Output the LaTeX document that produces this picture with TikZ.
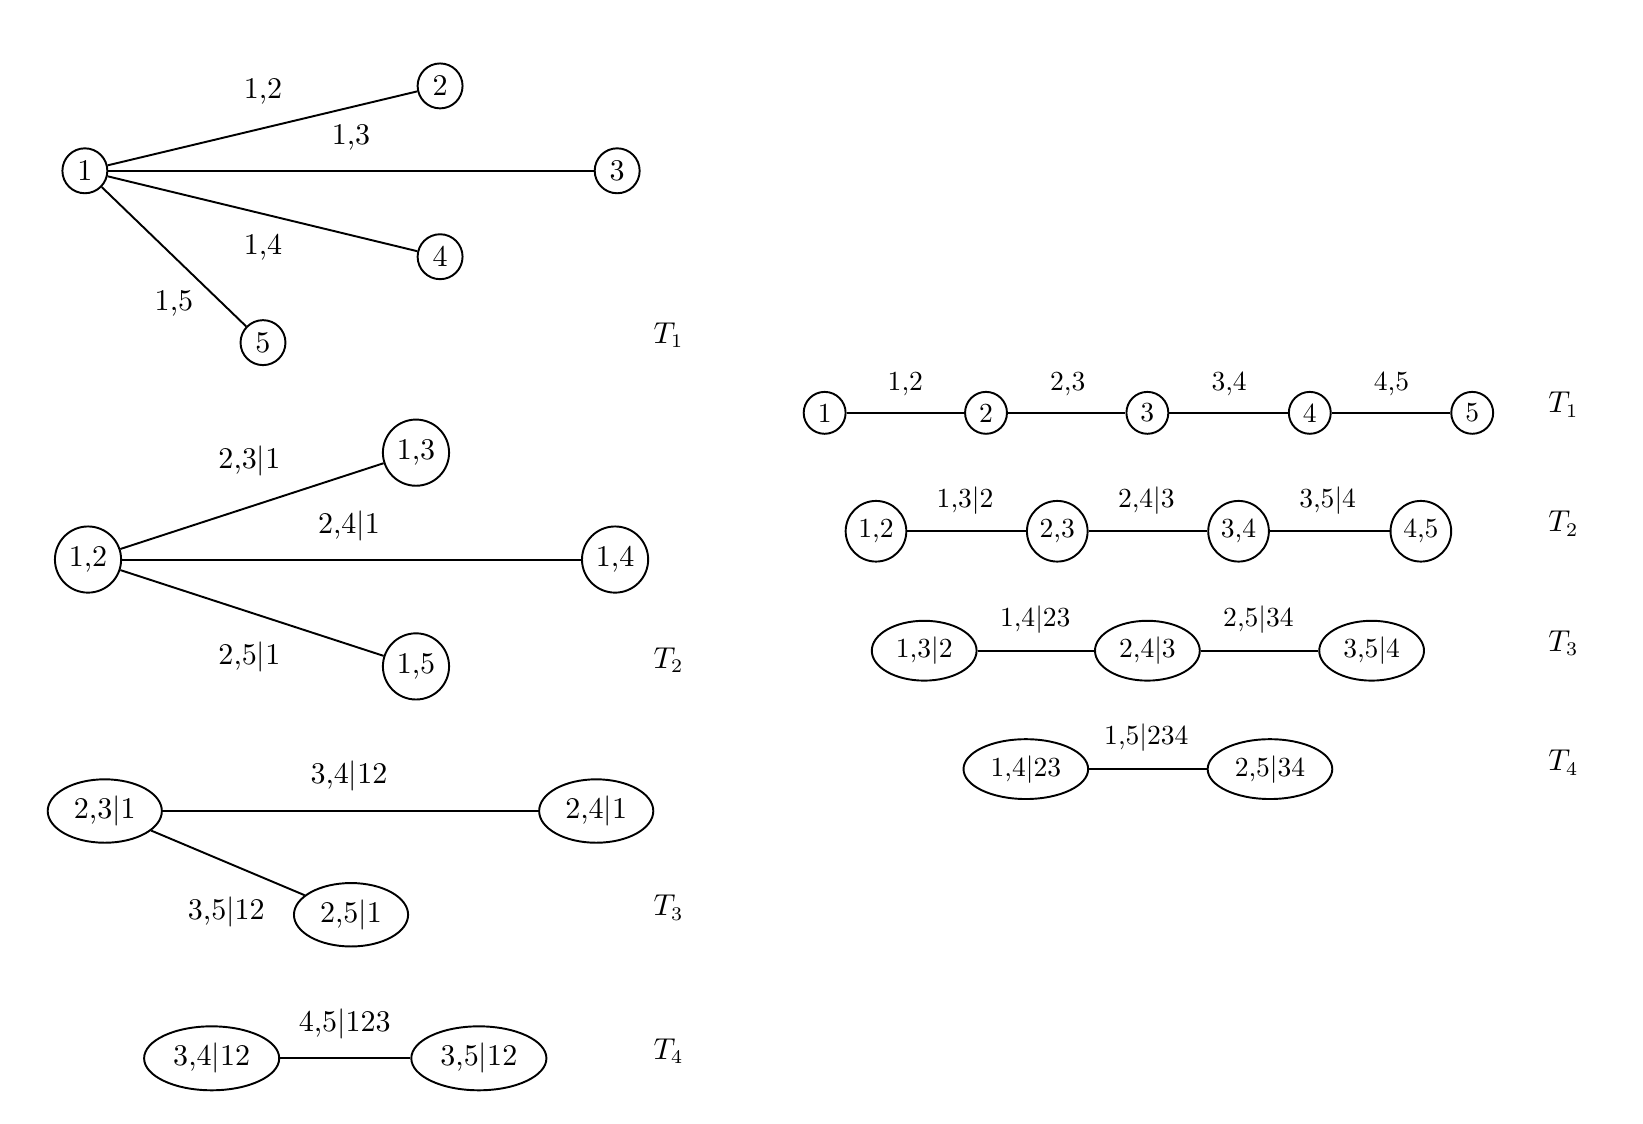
\documentclass[tikz,border=0pt]{standalone}
\usetikzlibrary{shapes.geometric}
\begin{document}
\begin{tikzpicture}[x=0.38pt,y=-0.38pt,line width=0.7pt,
  lf/.style={font=\fontsize{10.9}{13}\selectfont},
  rf/.style={font=\fontsize{10}{12}\selectfont},
  lcs/.style={draw,circle,inner sep=0pt,minimum size=16.3pt,lf},
  lcb/.style={draw,circle,inner sep=0pt,minimum size=24pt,lf},
  lea/.style={draw,ellipse,inner sep=0pt,minimum width=41.4pt,minimum height=23pt,lf},
  leb/.style={draw,ellipse,inner sep=0pt,minimum width=49pt,minimum height=23.2pt,lf},
  rcs/.style={draw,circle,inner sep=0pt,minimum size=15.2pt,rf},
  rcb/.style={draw,circle,inner sep=0pt,minimum size=22pt,rf},
  rea/.style={draw,ellipse,inner sep=0pt,minimum width=38pt,minimum height=21.7pt,rf},
  reb/.style={draw,ellipse,inner sep=0pt,minimum width=45.2pt,minimum height=21.7pt,rf},
  ll/.style={inner sep=0pt,lf},
  rl/.style={inner sep=0pt,rf},
  tl/.style={inner sep=0pt,font=\fontsize{10.5}{12}\selectfont}]
\useasboundingbox (0,0) rectangle (1568,1072);
% ---------- left T1
\node[lcs] (a1) at (81,163) {1};
\node[lcs] (a2) at (420,82) {2};
\node[lcs] (a3) at (589,163) {3};
\node[lcs] (a4) at (420,245) {4};
\node[lcs] (a5) at (251,327) {5};
\draw (a1) -- (a2); \draw (a1) -- (a3); \draw (a1) -- (a4); \draw (a1) -- (a5);
\node[ll] (la12) at (251,87) {1,2};
\node[ll] (la13) at (335,131) {1,3};
\node[ll] (la14) at (251,236) {1,4};
\node[ll] (la15) at (166,290) {1,5};
\node[tl] (ta1) at (638,320) {$T_1$};
% ---------- left T2
\node[lcb] (b12) at (84,534) {1,2};
\node[lcb] (b13) at (397,432) {1,3};
\node[lcb] (b14) at (587,534) {1,4};
\node[lcb] (b15) at (397,636) {1,5};
\draw (b12) -- (b13); \draw (b12) -- (b14); \draw (b12) -- (b15);
\node[ll] (lb23) at (238,440) {2,3$|$1};
\node[ll] (lb24) at (333,502) {2,4$|$1};
\node[ll] (lb25) at (238,627) {2,5$|$1};
\node[tl] (tb2) at (638,630) {$T_2$};
% ---------- left T3
\node[lea] (c23) at (100,774) {2,3$|$1};
\node[lea] (c24) at (569,774) {2,4$|$1};
\node[lea] (c25) at (335,873) {2,5$|$1};
\draw (c23) -- (c24); \draw (c23) -- (c25);
\node[ll] (lc34) at (333,741) {3,4$|$12};
\node[ll] (lc35) at (216,870) {3,5$|$12};
\node[tl] (tc3) at (638,866) {$T_3$};
% ---------- left T4
\node[leb] (d34) at (202,1010) {3,4$|$12};
\node[leb] (d35) at (457,1010) {3,5$|$12};
\draw (d34) -- (d35);
\node[ll] (ld45) at (329,977) {4,5$|$123};
\node[tl] (td4) at (638,1003) {$T_4$};
% ---------- right T1
\node[rcs] (e1) at (787,394) {1};
\node[rcs] (e2) at (941,394) {2};
\node[rcs] (e3) at (1095,394) {3};
\node[rcs] (e4) at (1250,394) {4};
\node[rcs] (e5) at (1405,394) {5};
\draw (e1) -- (e2); \draw (e2) -- (e3); \draw (e3) -- (e4); \draw (e4) -- (e5);
\node[rl] (le12) at (864,366) {1,2};
\node[rl] (le23) at (1019,366) {2,3};
\node[rl] (le34) at (1173,366) {3,4};
\node[rl] (le45) at (1328,366) {4,5};
\node[tl] (te1) at (1492,386) {$T_1$};
% ---------- right T2
\node[rcb] (f12) at (836,507) {1,2};
\node[rcb] (f23) at (1009,507) {2,3};
\node[rcb] (f34) at (1182,507) {3,4};
\node[rcb] (f45) at (1356,507) {4,5};
\draw (f12) -- (f23); \draw (f23) -- (f34); \draw (f34) -- (f45);
\node[rl] (lf13) at (921,478) {1,3$|$2};
\node[rl] (lf24) at (1094,478) {2,4$|$3};
\node[rl] (lf35) at (1267,478) {3,5$|$4};
\node[tl] (tf2) at (1492,500) {$T_2$};
% ---------- right T3
\node[rea] (g13) at (882,621) {1,3$|$2};
\node[rea] (g24) at (1095,621) {2,4$|$3};
\node[rea] (g35) at (1309,621) {3,5$|$4};
\draw (g13) -- (g24); \draw (g24) -- (g35);
\node[rl] (lg14) at (988,591) {1,4$|$23};
\node[rl] (lg25) at (1201,591) {2,5$|$34};
\node[tl] (tg3) at (1492,614) {$T_3$};
% ---------- right T4
\node[reb] (h14) at (979,734) {1,4$|$23};
\node[reb] (h25) at (1212,734) {2,5$|$34};
\draw (h14) -- (h25);
\node[rl] (lh15) at (1094,704) {1,5$|$234};
\node[tl] (th4) at (1492,728) {$T_4$};
\end{tikzpicture}
\end{document}
